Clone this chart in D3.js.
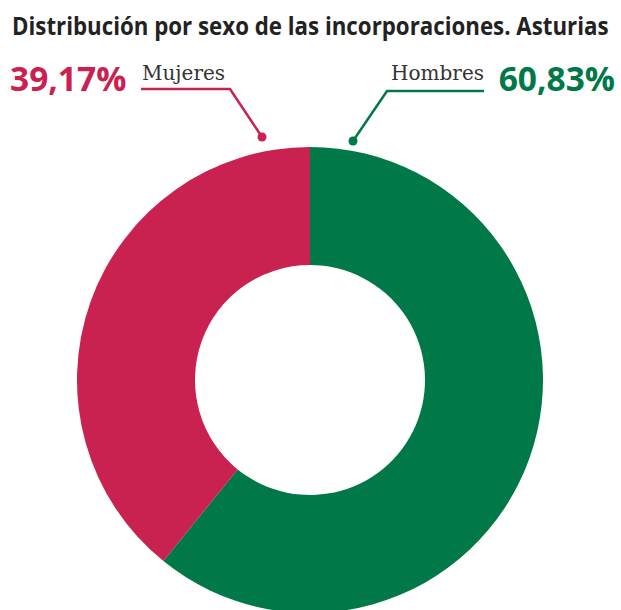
<!DOCTYPE html>
<head>
  <meta charset="utf-8">
  <script src="https://cdn.jsdelivr.net/npm/d3@7"></script>
  <style>
    body { margin: 0; background: #fff; }
  </style>
</head>
<body>
  <script>
    var categories = ["Hombres", "Mujeres"];
    var values = [60.83, 39.17];
    var labels = ["60,83%", "39,17%"];
    var colors = ["#007847", "#c92150"];

    var width = 621, height = 610;
    var cx = 310, cy = 380, outer = 233, inner = 115;

    var svg = d3.select("body").append("svg")
      .attr("width", width)
      .attr("height", height);

    // condensed-looking title: squeeze a bold face horizontally into the reference width
    var title = svg.append("text")
      .attr("x", 0)
      .attr("y", 0)
      .style("font-family", "'Open Sans', 'Noto Sans', sans-serif")
      .style("font-weight", "bold")
      .style("font-size", "25px")
      .style("fill", "#222")
      .text("Distribución por sexo de las incorporaciones. Asturias");
    var tw = title.node().getComputedTextLength();
    title.attr("transform", "translate(12,35) scale(" + (597 / tw) + ",1)");

    var pie = d3.pie().sort(null).value(function(d) { return d; });
    var arc = d3.arc().innerRadius(inner).outerRadius(outer);

    var g = svg.append("g")
      .attr("transform", "translate(" + cx + "," + cy + ")");

    g.selectAll("path").data(pie(values))
      .enter().append("path")
        .attr("d", arc)
        .attr("fill", function(d, i) { return colors[i]; });

    // callouts: label, leader line with a dot near the top of the ring
    var callouts = [
      {i: 0, dot: [353, 141], elbow: [387, 91], end: 484, nameX: 484, anchor: "end", pctX: 615},
      {i: 1, dot: [262, 137], elbow: [230, 89], end: 141, nameX: 142, anchor: "start", pctX: 10}
    ];

    callouts.forEach(function(c) {
      var col = colors[c.i];
      svg.append("polyline")
        .attr("points", [c.dot, c.elbow, [c.end, c.elbow[1]]].map(function(p) { return p.join(","); }).join(" "))
        .attr("fill", "none")
        .attr("stroke", col)
        .attr("stroke-width", 2.5);
      svg.append("circle")
        .attr("cx", c.dot[0]).attr("cy", c.dot[1]).attr("r", 4.5)
        .attr("fill", col);
      svg.append("text")
        .attr("x", c.nameX).attr("y", 80)
        .attr("text-anchor", c.anchor)
        .style("font-family", "'DejaVu Serif', 'Liberation Serif', serif")
        .style("font-size", "20px")
        .style("fill", "#333")
        .text(categories[c.i]);
      svg.append("text")
        .attr("x", c.pctX).attr("y", 91)
        .attr("text-anchor", c.anchor)
        .style("font-family", "'Open Sans', 'Noto Sans', sans-serif")
        .style("font-weight", "bold")
        .style("font-size", "33.5px")
        .style("fill", col)
        .text(labels[c.i]);
    });
  </script>
</body>
